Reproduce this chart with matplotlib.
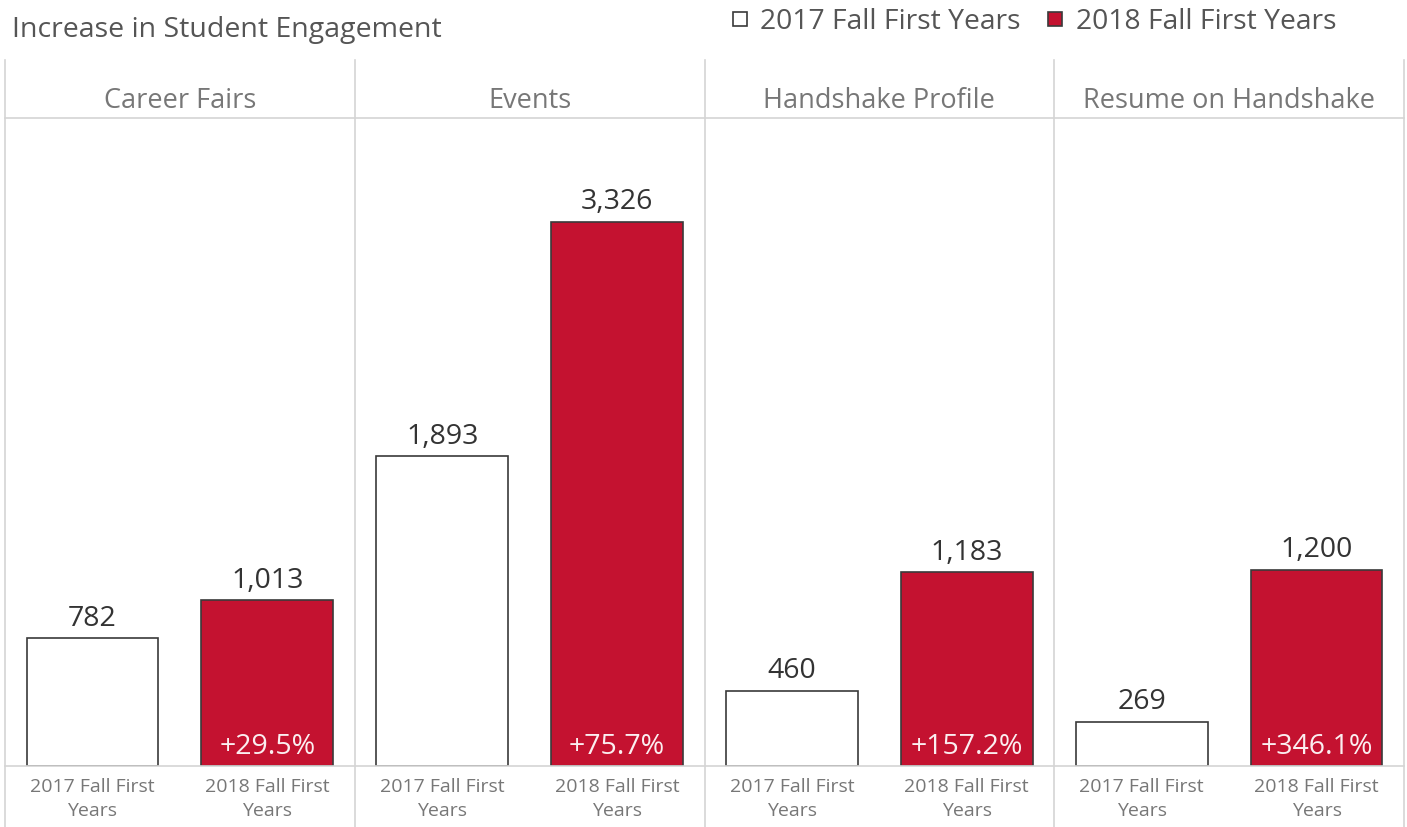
import matplotlib
matplotlib.use("Agg")
import matplotlib.pyplot as plt
from matplotlib.lines import Line2D
from matplotlib.patches import Rectangle

plt.rcParams['font.family'] = ['Open Sans', 'DejaVu Sans']

title = "Increase in Student Engagement"
panels = ["Career Fairs", "Events", "Handshake Profile", "Resume on Handshake"]
series = ["2017 Fall First Years", "2018 Fall First Years"]
tick_labels = ["2017 Fall First\nYears", "2018 Fall First\nYears"]
values_2017 = [782, 1893, 460, 269]
values_2018 = [1013, 3326, 1183, 1200]

W, H = 1407, 827
fig = plt.figure(figsize=(W / 100, H / 100), dpi=100)
fig.patch.set_facecolor("white")

RED = "#C41230"
EDGE = "#3a3a3a"
GRID = "#d4d4d4"

def fx(px):
    return px / W

def fy(py):
    return 1 - py / H

left0, right0 = 5, 1404
pw = (right0 - left0) / 4
top_plot, base = 118, 766

# frame lines
for i in range(5):
    x = left0 + i * pw
    fig.add_artist(Line2D([fx(x), fx(x)], [fy(60), fy(827)], color=GRID, lw=1.2))
for y in (118, 766):
    fig.add_artist(Line2D([fx(left0), fx(right0)], [fy(y), fy(y)], color=GRID, lw=1.2))

for i, name in enumerate(panels):
    x0 = left0 + i * pw
    ax = fig.add_axes([fx(x0), fy(base), fx(pw), (base - top_plot) / H])
    ax.set_xlim(-0.5, 1.5)
    ax.set_ylim(0, 3961)
    ax.axis("off")
    v = [values_2017[i], values_2018[i]]
    ax.bar([0], [v[0]], width=0.754, color="white", edgecolor=EDGE, linewidth=1.2)
    ax.bar([1], [v[1]], width=0.754, color=RED, edgecolor=EDGE, linewidth=1.2)
    for j, val in enumerate(v):
        ax.annotate(f"{val:,}", (j, val), xytext=(0, 4), textcoords="offset points",
                    ha="center", va="bottom", fontsize=20.5, color="#333333")
    pct = (v[1] / v[0] - 1) * 100
    ax.annotate(f"+{pct:.1f}%", (1, 0), xytext=(0, 14), textcoords="offset points",
                ha="center", va="center", fontsize=20.5, color="#fbeef0")
    fig.text(fx(x0 + pw / 2), fy(101), name, ha="center", va="center",
             fontsize=19.5, color="#777777")
    for j, lab in enumerate(tick_labels):
        fig.text(fx(x0 + pw * (0.25 + 0.5 * j)), fy(799), lab, ha="center", va="center",
                 fontsize=14, color="#777777", linespacing=1.4)

fig.text(fx(12), fy(30), title, ha="left", va="center", fontsize=20.5, color="#555555")

# legend
for sx, tx, fc, lab in [(733, 760, "white", series[0]), (1048, 1076, RED, series[1])]:
    fig.add_artist(Rectangle((fx(sx), fy(26)), fx(14), 14 / H, facecolor=fc,
                             edgecolor=EDGE, lw=1.2, transform=fig.transFigure))
    fig.text(fx(tx), fy(22), lab, ha="left", va="center", fontsize=20.3, color="#555555")

fig.savefig("out.png", dpi=100, facecolor="white")
